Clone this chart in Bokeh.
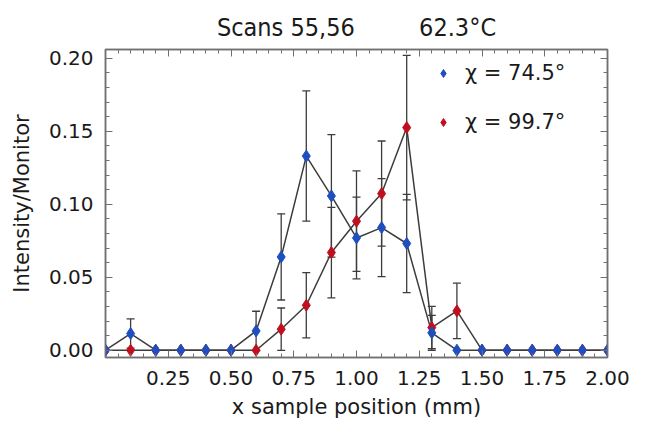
from bokeh.plotting import figure
from bokeh.models import (ColumnDataSource, Whisker, TeeHead, Range1d, FixedTicker,
                          LinearAxis, Legend, LegendItem)
from bokeh.embed import file_html
from bokeh.resources import INLINE

# ---- data ----
x_pos = [0.0, 0.1, 0.2, 0.3, 0.4, 0.5, 0.6, 0.7, 0.8, 0.9, 1.0,
         1.1, 1.2, 1.3, 1.4, 1.5, 1.6, 1.7, 1.8, 1.9, 2.0]
chi_745 = [0.0, 0.0114, 0.0, 0.0, 0.0, 0.0, 0.0132, 0.0639, 0.133, 0.1057, 0.0769,
           0.084, 0.0731, 0.0119, 0.0, 0.0, 0.0, 0.0, 0.0, 0.0, 0.0]
chi_745_err = [0.0, 0.010, 0.0, 0.0, 0.0, 0.0, 0.0135, 0.0295, 0.0446, 0.042, 0.028,
               0.0336, 0.0336, 0.012, 0.0, 0.0, 0.0, 0.0, 0.0, 0.0, 0.0]
chi_997 = [0.0, 0.0, 0.0, 0.0, 0.0, 0.0, 0.0, 0.0144, 0.0308, 0.0669, 0.0884,
           0.1073, 0.1525, 0.0155, 0.0269, 0.0, 0.0, 0.0, 0.0, 0.0, 0.0]
chi_997_err = [0.0, 0.0, 0.0, 0.0, 0.0, 0.0, 0.0, 0.0145, 0.0224, 0.031, 0.0344,
               0.036, 0.0495, 0.0145, 0.019, 0.0, 0.0, 0.0, 0.0, 0.0, 0.0]
series_labels = ["\u03c7 = 74.5\u00b0", "\u03c7 = 99.7\u00b0"]
x_ticks = [0.25, 0.50, 0.75, 1.00, 1.25, 1.50, 1.75, 2.00]
x_tick_labels = ["0.25", "0.50", "0.75", "1.00", "1.25", "1.50", "1.75", "2.00"]
y_ticks = [0.00, 0.05, 0.10, 0.15, 0.20]
y_tick_labels = ["0.00", "0.05", "0.10", "0.15", "0.20"]
title_left = "Scans 55,56"
title_right = "62.3\u00b0C"

BLUE = "#1f4fbf"
RED = "#c01020"
LINE = "#3c3c3c"
AX = "#707070"
FONT = "DejaVu Sans"

p = figure(width=652, height=423, output_backend="svg", toolbar_location=None,
           x_range=Range1d(0.0, 2.0), y_range=Range1d(-0.005, 0.206),
           min_border_left=105, min_border_right=45, min_border_top=49, min_border_bottom=66)
p.background_fill_color = "white"
p.border_fill_color = "white"
p.outline_line_color = AX
p.outline_line_width = 1.5
p.xgrid.visible = False
p.ygrid.visible = False

# title (two parts separated by non-breaking spaces)
p.title.text = title_left + "\u00a0" * 9 + title_right
p.title.align = "center"
p.title.text_font = "DejaVu Sans Condensed"
p.title.text_font_size = "25px"
p.title.text_font_style = "normal"
p.title.text_color = "#1a1a1a"
p.title.standoff = 16


def err_source(xs, ys, es):
    keep = [i for i, e in enumerate(es) if e > 0]
    return ColumnDataSource(dict(
        x=[xs[i] for i in keep],
        lower=[ys[i] - es[i] for i in keep],
        upper=[ys[i] + es[i] for i in keep]))

# lines
p.line(x_pos, chi_997, line_color=LINE, line_width=1.5)
p.line(x_pos, chi_745, line_color=LINE, line_width=1.5)

# error bars
for ys, es in ((chi_997, chi_997_err), (chi_745, chi_745_err)):
    src = err_source(x_pos, ys, es)
    w = Whisker(source=src, base="x", upper="upper", lower="lower", dimension="height",
                line_color=LINE, line_width=1.3,
                upper_head=TeeHead(size=8, line_color=LINE, line_width=1.3),
                lower_head=TeeHead(size=8, line_color=LINE, line_width=1.3))
    p.add_layout(w)

r_red = p.scatter(x_pos, chi_997, marker="diamond", size=12, fill_color=RED, line_color=RED)
r_blue = p.scatter(x_pos, chi_745, marker="diamond", size=12, fill_color=BLUE, line_color=BLUE)

# axes
xt = FixedTicker(ticks=x_ticks, minor_ticks=[round(0.05 * i, 2) for i in range(41)])
yt = FixedTicker(ticks=y_ticks, minor_ticks=[round(0.01 * i, 2) for i in range(21)])

bottom_ax = p.below[0]
left_ax = p.left[0]
bottom_ax.ticker = xt
left_ax.ticker = yt
bottom_ax.major_label_overrides = {t: l for t, l in zip(x_ticks, x_tick_labels)}
left_ax.major_label_overrides = {t: l for t, l in zip(y_ticks, y_tick_labels)}
bottom_ax.axis_label = "x sample position (mm)"
left_ax.axis_label = "Intensity/Monitor"

top_ax = LinearAxis(ticker=xt)
right_ax = LinearAxis(ticker=yt)
p.add_layout(top_ax, "above")
p.add_layout(right_ax, "right")

for ax in (bottom_ax, left_ax, top_ax, right_ax):
    ax.axis_line_color = AX
    ax.axis_line_width = 1.5
    ax.major_tick_line_color = AX
    ax.minor_tick_line_color = AX
    ax.major_tick_in = 7
    ax.major_tick_out = 0
    ax.minor_tick_in = 4
    ax.minor_tick_out = 0
    ax.major_label_text_font = FONT
    ax.major_label_text_font_size = "20px"
    ax.major_label_text_color = "#1a1a1a"
    ax.axis_label_text_font = FONT
    ax.axis_label_text_font_size = "21px"
    ax.axis_label_text_font_style = "normal"
    ax.axis_label_text_color = "#1a1a1a"

for ax in (top_ax, right_ax):
    ax.major_label_text_font_size = "0px"
    ax.major_label_text_color = None
    ax.major_label_standoff = 0

bottom_ax.major_label_standoff = 13
left_ax.major_label_standoff = 12
bottom_ax.axis_label_standoff = 7
left_ax.axis_label_standoff = 12

# legend
legend = Legend(items=[LegendItem(label=series_labels[0], renderers=[r_blue]),
                       LegendItem(label=series_labels[1], renderers=[r_red])],
                location=(328, 223), orientation="vertical",
                label_text_font=FONT, label_text_font_size="21px", label_text_color="#1a1a1a",
                glyph_width=20, glyph_height=20, label_height=25, spacing=24,
                label_standoff=12, padding=0, margin=0,
                border_line_color=None, background_fill_alpha=0.0)
p.add_layout(legend)

open("out.html", "w").write(file_html(p, INLINE))
